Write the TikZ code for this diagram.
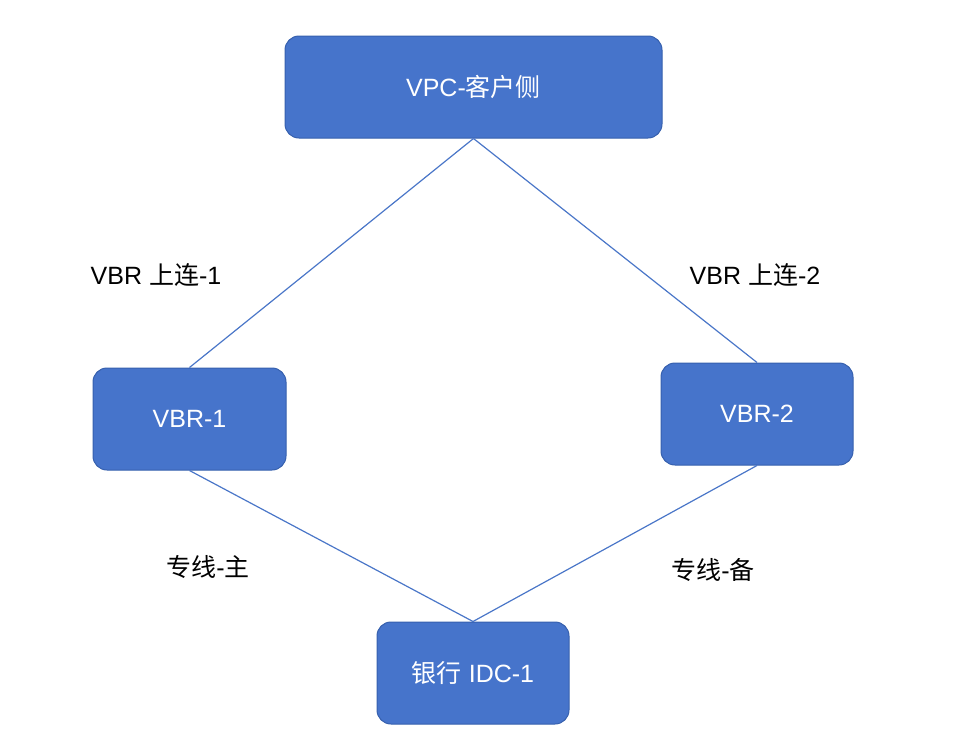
\documentclass[tikz,border=0pt]{standalone}
\usepackage{fontspec}
\setmainfont{Liberation Sans}
\newfontfamily\cjk{Noto Sans CJK SC}
\definecolor{boxfill}{HTML}{4674CB}
\definecolor{boxline}{HTML}{3660AE}
\definecolor{linkc}{HTML}{4A76C8}
\begin{document}
\begin{tikzpicture}[x=1pt,y=-1pt,
  box/.style={draw=boxline,line width=1pt,fill=boxfill,rounded corners=14pt,text=white,font=\fontsize{25}{28}\selectfont,inner sep=0pt},
  link/.style={draw=linkc,line width=1.2pt},
  lbl/.style={font=\fontsize{25}{28}\selectfont,text=black,inner sep=0pt}]
\useasboundingbox (0,0) rectangle (978,736);
\node[box,minimum width=377pt,minimum height=102pt] (vpc) at (473.5,87) {VPC-{\cjk 客户侧}};
\node[box,minimum width=193pt,minimum height=102pt] (vbr1) at (189.5,419) {VBR-1};
\node[box,minimum width=192pt,minimum height=102pt] (vbr2) at (757,414) {VBR-2};
\node[box,minimum width=192pt,minimum height=102pt] (idc) at (473,673) {{\cjk 银行} IDC-1};
\draw[link] (vpc.south) -- (vbr1.north);
\draw[link] (vpc.south) -- (vbr2.north);
\draw[link] (vbr1.south) -- (idc.north);
\draw[link] (vbr2.south) -- (idc.north);
\node[lbl] (l1) at (156,275) {VBR {\cjk 上连}-1};
\node[lbl] (l2) at (755,275) {VBR {\cjk 上连}-2};
\node[lbl] (l3) at (208,567) {{\cjk 专线}-{\cjk 主}};
\node[lbl] (l4) at (713,570) {{\cjk 专线}-{\cjk 备}};
\end{tikzpicture}
\end{document}
